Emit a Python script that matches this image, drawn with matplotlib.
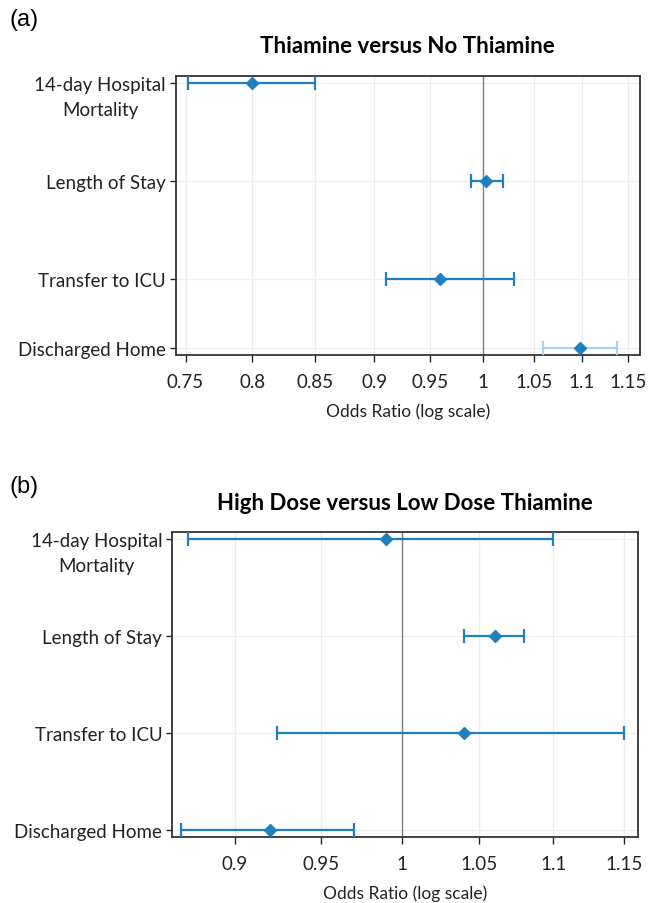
import matplotlib
matplotlib.use("Agg")
import matplotlib.pyplot as plt
import matplotlib.transforms as mtransforms
from matplotlib.ticker import FixedLocator, NullLocator

plt.rcParams['font.family'] = ['Lato', 'DejaVu Sans']

# data
outcomes = ["14-day Hospital\nMortality", "Length of Stay", "Transfer to ICU", "Discharged Home"]

# (a) thiamine versus no thiamine
or_a = [0.80, 1.003, 0.959, 1.098]
lo_a = [0.752, 0.988, 0.910, 1.059]
hi_a = [0.850, 1.019, 1.030, 1.138]
ticks_a = [0.75, 0.8, 0.85, 0.9, 0.95, 1, 1.05, 1.1, 1.15]
labels_a = ["0.75", "0.8", "0.85", "0.9", "0.95", "1", "1.05", "1.1", "1.15"]

# (b) high dose versus low dose thiamine
or_b = [0.99, 1.06, 1.04, 0.92]
lo_b = [0.874, 1.04, 0.924, 0.87]
hi_b = [1.10, 1.08, 1.15, 0.97]
ticks_b = [0.9, 0.95, 1, 1.05, 1.1, 1.15]
labels_b = ["0.9", "0.95", "1", "1.05", "1.1", "1.15"]

blue = "#1f7fc1"
light_blue = "#a9d3ee"

fig = plt.figure(figsize=(6.56, 9.04), dpi=100)


def forest(ax, ypos, est, lo, hi, ticks, labels, xlim, ylim, title, line_colors):
    ax.set_xscale("log")
    ax.set_xlim(*xlim)
    ax.set_ylim(*ylim)
    ax.xaxis.set_major_locator(FixedLocator(ticks))
    ax.xaxis.set_minor_locator(NullLocator())
    ax.set_xticklabels(labels)
    ax.set_yticks(ypos)
    ax.set_yticklabels(outcomes)
    for x in ticks:
        ax.axvline(x, color="#ececec", lw=1, zorder=0)
    for y in ypos:
        ax.axhline(y, color="#f0f0f0", lw=1, zorder=0)
    ax.axvline(1, color="#808080", lw=1, zorder=1)
    for y, e, l, h, c in zip(ypos, est, lo, hi, line_colors):
        ax.errorbar([e], [y], xerr=[[e - l], [h - e]], fmt="none", ecolor=c,
                    elinewidth=1.6, capsize=5, capthick=1.6, zorder=3)
        ax.plot([e], [y], marker="D", color=blue, markersize=6.5, zorder=4)
    ax.tick_params(axis="x", labelsize=13.5, length=5, width=1, pad=8, colors="#222222")
    ax.tick_params(axis="y", labelsize=13.5, length=4, width=1, pad=3, colors="#222222")
    for sp in ax.spines.values():
        sp.set_color("#333333")
        sp.set_linewidth(1.3)
    ax.set_xlabel("Odds Ratio (log scale)", fontsize=12.5, labelpad=9, color="#222222")
    ax.set_title(title, fontsize=16, fontweight="bold", pad=17)
    # multi-line label: first line on the tick, lines centred
    lab = ax.get_yticklabels()[0]
    lab.set_verticalalignment("top")
    lab.set_multialignment("center")
    lab.set_linespacing(1.55)
    lab.set_transform(lab.get_transform() + mtransforms.ScaledTranslation(0, 5 / 72, fig.dpi_scale_trans))


ax_a = fig.add_axes([0.268, 0.606, 0.707, 0.309])
forest(ax_a, [0, 1, 2, 2.7], or_a, lo_a, hi_a, ticks_a, labels_a,
       (0.743, 1.163), (2.77, -0.072), "Thiamine versus No Thiamine",
       [blue, blue, blue, light_blue])

ax_b = fig.add_axes([0.262, 0.073, 0.710, 0.337])
forest(ax_b, [0, 1, 2, 3], or_b, lo_b, hi_b, ticks_b, labels_b,
       (0.865, 1.160), (3.07, -0.072), "High Dose versus Low Dose Thiamine",
       [blue, blue, blue, blue])

fig.text(0.015, 0.978, "(a)", fontsize=17, family="Liberation Sans", va="center")
fig.text(0.015, 0.461, "(b)", fontsize=17, family="Liberation Sans", va="center")

fig.savefig("out.png", dpi=100)
